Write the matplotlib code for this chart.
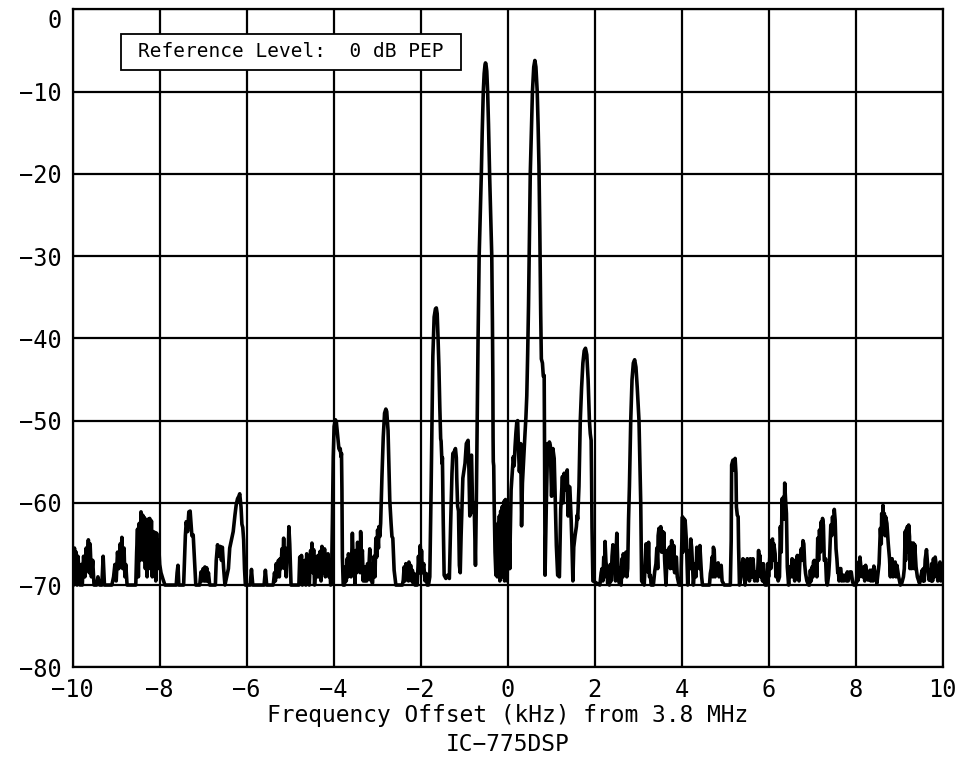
import matplotlib
matplotlib.use("Agg")
import matplotlib.pyplot as plt
from matplotlib.patches import Rectangle

# spectrum trace: (offset kHz, level dB)
seg_far_left = [
    (-10.00, -66.0), (-9.98, -70), (-9.96, -65.5), (-9.94, -69), (-9.92, -66), (-9.90, -70),
    (-9.88, -66.5), (-9.86, -68), (-9.83, -70), (-9.80, -67.5), (-9.78, -70), (-9.75, -66.5),
    (-9.72, -69), (-9.69, -65.5), (-9.67, -68), (-9.64, -64.5), (-9.62, -68.5), (-9.60, -65.0),
    (-9.57, -69), (-9.54, -67), (-9.51, -70), (-9.45, -70), (-9.42, -69), (-9.38, -70),
    (-9.33, -70), (-9.30, -66.5), (-9.27, -70), (-9.10, -70), (-9.06, -69), (-9.03, -67.5),
    (-9.00, -69.5), (-8.97, -66.0), (-8.94, -68), (-8.91, -65.0), (-8.89, -67.5), (-8.87, -64.2),
    (-8.85, -68), (-8.82, -65.5), (-8.80, -69), (-8.78, -67.5), (-8.75, -70), (-8.58, -70),
    (-8.55, -70), (-8.53, -66), (-8.51, -63.2), (-8.49, -69), (-8.47, -62.5), (-8.45, -67),
    (-8.43, -61.1), (-8.41, -66), (-8.39, -61.5), (-8.37, -67), (-8.35, -61.8), (-8.33, -68),
    (-8.31, -62.3), (-8.29, -69), (-8.27, -62.0), (-8.25, -68), (-8.23, -61.9), (-8.21, -67),
    (-8.19, -62.2), (-8.17, -69), (-8.15, -63.5), (-8.13, -68), (-8.11, -63.6), (-8.09, -69.5),
    (-8.07, -63.7), (-8.05, -68), (-8.03, -64.5), (-8.00, -67.5), (-7.97, -68.5), (-7.93, -69.2),
    (-7.88, -70), (-7.62, -70), (-7.60, -68.5), (-7.58, -67.6), (-7.56, -70), (-7.45, -70),
    (-7.41, -64), (-7.39, -62.3), (-7.36, -63.5), (-7.33, -61.1), (-7.30, -61.0), (-7.28, -62.5),
    (-7.26, -64), (-7.23, -63.9), (-7.20, -67), (-7.17, -70), (-7.08, -70), (-7.05, -68.4),
    (-7.03, -69.5), (-7.00, -68.0), (-6.98, -69.5), (-6.96, -67.8), (-6.94, -69.5), (-6.92, -67.9),
    (-6.90, -69.5), (-6.88, -68.5), (-6.85, -70), (-6.72, -70), (-6.70, -67), (-6.67, -65.1),
    (-6.64, -66.5), (-6.61, -65.3), (-6.58, -67), (-6.56, -65.4), (-6.53, -68), (-6.50, -70),
    (-6.46, -69), (-6.42, -68), (-6.39, -65.5), (-6.35, -64.5), (-6.31, -63.5), (-6.27, -61.5),
    (-6.24, -60.2), (-6.21, -59.5), (-6.18, -59.2), (-6.16, -58.9), (-6.13, -60.5), (-6.11, -62.6),
    (-6.09, -63), (-6.07, -64.5), (-6.05, -68), (-6.03, -70),
]

seg_left = [
    (-5.92, -70), (-5.89, -68.1), (-5.86, -70), (-5.60, -70), (-5.57, -68.2), (-5.54, -70),
    (-5.39, -70), (-5.36, -68.5), (-5.34, -69.5), (-5.32, -67.4), (-5.30, -69), (-5.27, -67),
    (-5.25, -69), (-5.23, -66.8), (-5.21, -68), (-5.19, -65.6), (-5.17, -67.5), (-5.15, -64.3),
    (-5.13, -68), (-5.11, -65.5), (-5.09, -69), (-5.07, -65.8), (-5.05, -67), (-5.03, -62.9),
    (-5.01, -65), (-4.98, -70), (-4.80, -70), (-4.78, -66.6), (-4.76, -69), (-4.74, -66.4),
    (-4.72, -70), (-4.70, -67.4), (-4.68, -69.5), (-4.66, -67), (-4.64, -70), (-4.62, -66.2),
    (-4.60, -68), (-4.58, -66.6), (-4.56, -70), (-4.53, -65.8), (-4.51, -68), (-4.50, -64.9),
    (-4.48, -68.5), (-4.46, -65.7), (-4.44, -70), (-4.42, -68.5), (-4.40, -66.6), (-4.38, -69),
    (-4.36, -66.4), (-4.34, -69), (-4.31, -65.9), (-4.29, -69.5), (-4.27, -65.3), (-4.25, -66),
    (-4.23, -68.5), (-4.21, -65.6), (-4.19, -69), (-4.17, -66.6), (-4.15, -68.5), (-4.13, -66.2),
    (-4.11, -69), (-4.09, -67), (-4.07, -70), (-4.05, -69.4), (-4.03, -62.5), (-4.01, -54.4),
    (-3.99, -50.7), (-3.96, -49.9), (-3.94, -50.1), (-3.92, -51.2), (-3.90, -52.4), (-3.88, -53.4),
    (-3.86, -53.6), (-3.85, -53.4), (-3.83, -54.4), (-3.82, -54.0), (-3.81, -58.5), (-3.80, -66.6),
    (-3.78, -70), (-3.75, -70), (-3.73, -67.8), (-3.71, -69.5), (-3.69, -66.8), (-3.67, -69),
    (-3.66, -66.2), (-3.64, -68.5), (-3.62, -66.6), (-3.60, -69), (-3.57, -63.7), (-3.55, -67),
    (-3.53, -66.6), (-3.51, -69.8), (-3.49, -65.8), (-3.47, -68.5), (-3.45, -64.8), (-3.43, -68),
    (-3.41, -65.0), (-3.39, -68.5), (-3.38, -63.5), (-3.36, -67), (-3.34, -65.8), (-3.32, -69.5),
    (-3.30, -67.8), (-3.28, -69.5), (-3.26, -67.8), (-3.24, -69.5), (-3.22, -67.4), (-3.20, -69),
    (-3.17, -65.6), (-3.15, -69.4), (-3.13, -67.5), (-3.11, -69.8), (-3.09, -68.6), (-3.07, -66.5),
    (-3.05, -69), (-3.03, -64.3), (-3.01, -66.6), (-2.99, -63.3), (-2.97, -65.5), (-2.96, -62.9),
    (-2.94, -64.1), (-2.92, -62.5), (-2.89, -56.8), (-2.86, -52.0), (-2.83, -49.1), (-2.80, -48.6),
    (-2.78, -48.9), (-2.75, -51.2), (-2.73, -55.2), (-2.71, -59.7), (-2.68, -62.5), (-2.66, -64.1),
    (-2.64, -64.3), (-2.61, -68.2), (-2.57, -70), (-2.42, -70), (-2.40, -69.4), (-2.38, -67.8),
    (-2.36, -69.5), (-2.34, -67.4), (-2.32, -69), (-2.30, -67.6), (-2.28, -69.5), (-2.27, -67.2),
    (-2.25, -69), (-2.23, -67.6), (-2.21, -69.5), (-2.19, -68.2), (-2.17, -69.8), (-2.15, -68.6),
    (-2.13, -70), (-2.08, -70), (-2.05, -66.5), (-2.03, -68.5), (-2.01, -65.2), (-1.99, -67),
    (-1.98, -65.8), (-1.96, -68.5), (-1.93, -67.4), (-1.90, -69.5), (-1.87, -68.6), (-1.85, -70),
]

seg_centre = [
    (-1.82, -70), (-1.79, -69), (-1.76, -58.5), (-1.74, -50.3), (-1.72, -42.2), (-1.69, -37.4),
    (-1.66, -36.4), (-1.64, -36.3), (-1.62, -37.0), (-1.60, -40), (-1.58, -43.5), (-1.56, -48.3),
    (-1.54, -52.2), (-1.53, -52.5), (-1.51, -55.2), (-1.50, -54.5), (-1.48, -62.5), (-1.46, -68.8),
    (-1.42, -69.2), (-1.38, -68.8), (-1.34, -69.2), (-1.31, -62.5), (-1.28, -56.4), (-1.26, -54.0),
    (-1.23, -53.8), (-1.20, -53.4), (-1.18, -54.5), (-1.17, -57), (-1.15, -60.4), (-1.13, -61),
    (-1.11, -67.6), (-1.09, -68.5), (-1.07, -64), (-1.03, -57), (-0.98, -55.2), (-0.95, -52.8),
    (-0.91, -52.4), (-0.89, -56), (-0.87, -61.6), (-0.86, -54.5), (-0.83, -54.2), (-0.81, -59.6),
    (-0.79, -61.2), (-0.77, -60), (-0.74, -67.6),
    # lower tone
    (-0.72, -60), (-0.70, -50), (-0.68, -40), (-0.655, -30), (-0.63, -25), (-0.605, -20),
    (-0.585, -15), (-0.56, -10), (-0.54, -7.8), (-0.52, -6.7), (-0.51, -6.5), (-0.50, -6.6),
    (-0.48, -7.5), (-0.46, -10), (-0.44, -14), (-0.415, -20), (-0.39, -25), (-0.365, -30),
    (-0.35, -38), (-0.34, -45), (-0.335, -52), (-0.33, -55), (-0.32, -55.5), (-0.31, -60),
    (-0.29, -66), (-0.27, -68.8),
    (-0.25, -63.2), (-0.24, -69), (-0.22, -62.5), (-0.21, -68), (-0.19, -61.6), (-0.18, -69.5),
    (-0.16, -61), (-0.15, -67), (-0.13, -60.5), (-0.12, -69), (-0.11, -60.4), (-0.09, -66),
    (-0.08, -59.8), (-0.07, -69.5), (-0.05, -59.6), (-0.04, -66.5), (-0.02, -62), (-0.01, -69.5),
    (0.00, -61.6), (0.02, -68), (0.04, -65), (0.05, -68), (0.06, -64), (0.08, -58.4),
    (0.11, -56), (0.13, -54.4), (0.15, -55.5), (0.17, -53.2), (0.19, -51.5), (0.21, -50.2),
    (0.23, -50.0), (0.25, -53.6), (0.27, -56.2), (0.29, -54.5), (0.30, -52.8), (0.32, -62.8),
    (0.34, -57.6), (0.36, -55.5), (0.38, -53.6), (0.40, -51.5), (0.42, -49.6),
    # upper tone
    (0.44, -47), (0.46, -42), (0.48, -36), (0.50, -28), (0.52, -20), (0.545, -15),
    (0.57, -10), (0.60, -7), (0.626, -6.2), (0.65, -7), (0.68, -10), (0.70, -14),
    (0.72, -19), (0.74, -27), (0.76, -37), (0.775, -42.5), (0.80, -43), (0.82, -44.6),
    (0.84, -44.5), (0.85, -55), (0.86, -68.8),
    (0.89, -60), (0.92, -52.8), (0.94, -54), (0.96, -52.6), (0.98, -53), (1.01, -59.2),
    (1.04, -53.4), (1.07, -54.6), (1.09, -58.6), (1.12, -65.2), (1.15, -68.8), (1.19, -69),
    (1.22, -60.8), (1.26, -56.8), (1.28, -60), (1.30, -56.4), (1.33, -58.4), (1.37, -56),
    (1.39, -61.6), (1.41, -58), (1.43, -58.1), (1.46, -62), (1.48, -65.4), (1.50, -69.5),
    (1.52, -65.4), (1.55, -64), (1.58, -62.9), (1.60, -61.5),
    (1.61, -62), (1.64, -58), (1.67, -50), (1.70, -46), (1.73, -43), (1.76, -41.5),
    (1.79, -41.2), (1.82, -42), (1.85, -45), (1.88, -50), (1.90, -51.6), (1.92, -52.4),
    (1.93, -57), (1.94, -63), (1.96, -69.5),
]

seg_right = [
    (2.12, -70), (2.15, -68.5), (2.17, -68.0), (2.19, -69.5), (2.21, -66.6), (2.23, -69),
    (2.24, -64.7), (2.26, -67.2), (2.28, -68.0), (2.30, -69.8), (2.32, -68), (2.34, -70),
    (2.36, -67.5), (2.38, -69.5), (2.40, -66.5), (2.42, -65.1), (2.44, -68), (2.46, -67.2),
    (2.48, -69.5), (2.49, -66.5), (2.51, -63.7), (2.53, -67), (2.55, -68.5), (2.57, -69.8),
    (2.59, -68), (2.61, -70), (2.63, -66.8), (2.65, -69), (2.66, -66.2), (2.68, -68.5),
    (2.70, -67.4), (2.72, -66.0), (2.74, -69), (2.76, -68),
    (2.78, -62), (2.80, -58), (2.83, -50), (2.86, -45), (2.89, -43), (2.92, -42.6),
    (2.95, -43.5), (2.98, -46), (3.02, -50), (3.04, -55), (3.06, -60), (3.08, -69.5),
    (3.14, -70), (3.16, -67.6), (3.18, -65), (3.20, -67.5), (3.22, -68.4), (3.24, -64.8),
    (3.26, -69), (3.28, -68.8), (3.30, -70), (3.35, -70), (3.38, -68.4), (3.41, -67.4),
    (3.43, -65.5), (3.45, -68), (3.46, -64), (3.48, -63.1), (3.50, -64.9), (3.52, -62.9),
    (3.54, -66), (3.56, -63.5), (3.58, -65.5), (3.59, -63.6), (3.61, -67), (3.64, -70),
    (3.67, -65.8), (3.69, -67), (3.72, -65.4), (3.74, -68), (3.77, -64.6), (3.79, -65.4),
    (3.80, -68), (3.82, -65.2), (3.84, -68.5), (3.85, -66.6), (3.88, -66.6), (3.90, -69),
    (3.94, -70), (3.98, -70), (4.00, -66), (4.02, -61.7), (4.03, -66), (4.05, -61.9),
    (4.07, -65), (4.08, -62.1), (4.11, -64.6), (4.14, -70), (4.16, -67), (4.18, -65.8),
    (4.20, -68), (4.21, -64.4), (4.23, -65.4), (4.25, -67.5), (4.27, -70), (4.31, -67.4),
    (4.33, -69), (4.35, -65.4), (4.37, -67), (4.39, -66.2), (4.41, -68), (4.42, -65.2),
    (4.44, -67.1), (4.46, -69), (4.48, -70), (4.64, -70), (4.66, -68.6), (4.68, -68),
    (4.70, -66.6), (4.72, -69), (4.73, -65.4), (4.75, -65.8), (4.77, -69), (4.79, -67.8),
    (4.82, -68.6), (4.84, -67.3), (4.86, -69), (4.88, -68.2), (4.91, -67.6), (4.93, -69.5),
    (4.98, -70), (5.12, -70), (5.14, -64.6), (5.15, -55.4), (5.18, -54.8), (5.20, -56),
    (5.23, -54.6), (5.25, -56.4), (5.26, -60.5), (5.28, -61.5), (5.30, -61.7), (5.31, -65.4),
    (5.33, -70), (5.37, -69), (5.39, -67.8), (5.41, -66.8), (5.43, -68.5), (5.44, -67),
    (5.46, -70), (5.48, -68.5), (5.51, -66.8), (5.53, -69), (5.54, -67), (5.56, -69.5),
    (5.58, -66.8), (5.60, -69), (5.61, -67.4), (5.63, -69), (5.64, -66.8), (5.66, -68.2),
    (5.68, -69.5), (5.71, -68.4), (5.74, -69.5), (5.77, -65.8), (5.79, -68.5), (5.80, -66.4),
    (5.82, -69), (5.83, -67.4), (5.86, -69.5), (5.88, -67.4), (5.90, -69.5), (5.92, -70),
    (5.96, -70), (5.98, -67.4), (6.00, -69), (6.03, -66.4), (6.05, -68), (6.07, -64.6),
    (6.09, -64.4), (6.11, -67), (6.12, -65), (6.15, -66.2), (6.17, -69), (6.19, -67.4),
    (6.22, -69.5), (6.25, -69), (6.27, -62.9), (6.29, -66), (6.31, -59.5), (6.33, -62),
    (6.34, -59.3), (6.36, -62), (6.37, -57.6), (6.39, -59.6), (6.41, -61.3), (6.43, -67.8),
    (6.46, -70), (6.49, -67.8), (6.51, -69), (6.54, -66.8), (6.56, -69), (6.58, -67),
    (6.60, -69.5), (6.62, -67), (6.64, -69), (6.66, -66.4), (6.68, -68.8), (6.70, -69.5),
    (6.72, -67), (6.75, -65.6), (6.77, -67), (6.79, -64.6), (6.81, -65), (6.83, -67.5),
    (6.85, -68.6), (6.88, -69.5), (6.92, -70),
]

seg_far_right = [
    (6.94, -70), (6.96, -68.2), (6.98, -69.5), (7.00, -67.8), (7.02, -69), (7.03, -67.2),
    (7.05, -67), (7.07, -68.8), (7.09, -67.2), (7.11, -69), (7.13, -64.3), (7.15, -67),
    (7.17, -63.3), (7.19, -66), (7.21, -62.3), (7.23, -65), (7.24, -61.9), (7.26, -62.7),
    (7.28, -67), (7.30, -67), (7.31, -66.8), (7.33, -69.5), (7.35, -70), (7.38, -68.8),
    (7.40, -67), (7.43, -62.7), (7.45, -64), (7.47, -61.7), (7.49, -63.5), (7.51, -60.8),
    (7.53, -62.1), (7.55, -65.6), (7.57, -66.8), (7.59, -68.5), (7.60, -68), (7.62, -69.5),
    (7.64, -68), (7.66, -68), (7.68, -69.5), (7.70, -68.8), (7.73, -69.5), (7.74, -68.8),
    (7.77, -69.2), (7.79, -69.5), (7.81, -68.4), (7.83, -69.5), (7.87, -68.4), (7.90, -68.4),
    (7.93, -69.6), (7.96, -70), (8.01, -70), (8.04, -68.2), (8.05, -69.5), (8.07, -67.2),
    (8.09, -69), (8.10, -66.6), (8.13, -68.2), (8.16, -69), (8.19, -67.8), (8.21, -69.5),
    (8.23, -67.6), (8.26, -69), (8.29, -69.4), (8.33, -68.2), (8.35, -69.5), (8.37, -68.2),
    (8.40, -69.5), (8.42, -67.7), (8.46, -69), (8.49, -69.8), (8.54, -67.4), (8.57, -63.1),
    (8.59, -65), (8.60, -61.3), (8.62, -63), (8.63, -60.3), (8.65, -63), (8.66, -61.3),
    (8.68, -64), (8.69, -61.7), (8.72, -62.5), (8.75, -64.9), (8.78, -66.8), (8.80, -69),
    (8.81, -67), (8.84, -66.8), (8.86, -69), (8.87, -67.4), (8.91, -67.2), (8.93, -69),
    (8.95, -67.6), (8.99, -69), (9.03, -70), (9.06, -69.8), (9.10, -69), (9.12, -68),
    (9.14, -63.5), (9.15, -67), (9.16, -63.3), (9.18, -66), (9.19, -62.9), (9.21, -66),
    (9.22, -62.7), (9.24, -64.1), (9.25, -68), (9.27, -65.3), (9.29, -68), (9.30, -64.9),
    (9.33, -64.9), (9.35, -68), (9.36, -65.1), (9.39, -67.8), (9.42, -69), (9.47, -69.8),
    (9.50, -69), (9.53, -68.2), (9.55, -69.5), (9.56, -68), (9.58, -69.5), (9.60, -66.9),
    (9.63, -65.7), (9.66, -67.8), (9.69, -69.4), (9.72, -68.2), (9.74, -69.5), (9.75, -67.4),
    (9.77, -69.5), (9.79, -66.8), (9.81, -69), (9.83, -66.6), (9.87, -68.2), (9.89, -69.5),
    (9.91, -68.6), (9.94, -67.2), (9.96, -69.5), (9.97, -68.6), (10.00, -68.2),
]

x_ticks = [-10, -8, -6, -4, -2, 0, 2, 4, 6, 8, 10]
y_ticks = [0, -10, -20, -30, -40, -50, -60, -70, -80]

trace = seg_far_left + seg_left + seg_centre + seg_right + seg_far_right
freq_khz = [p[0] for p in trace]
level_db = [p[1] for p in trace]

# plotter style lettering is close to a fixed-width sans
plt.rcParams['font.family'] = ['DejaVu Sans Mono']

fig = plt.figure(figsize=(9.58, 7.58), dpi=100)
ax = fig.add_axes([0.0759, 0.1197, 0.908, 0.8678])

ax.plot(freq_khz, level_db, color='black', lw=2.6, solid_joinstyle='round', zorder=3)

ax.set_xlim(-10, 10)
ax.set_ylim(-80, 0)
ax.set_xticks(x_ticks)
ax.set_yticks(y_ticks)
ax.set_xticklabels([str(t).replace('-', '\u2212') for t in x_ticks])
ax.set_yticklabels([str(t).replace('-', '\u2212') for t in y_ticks])
ax.tick_params(length=0, labelsize=17, pad=8)
ax.tick_params(axis='y', pad=8)
ax.get_yticklabels()[0].set_va('top')
ax.grid(True, color='black', lw=1.6)
for s in ax.spines.values():
    s.set_linewidth(1.6)

fig.text(0.53, 0.0555, 'Frequency Offset (kHz) from 3.8 MHz', ha='center', va='center', fontsize=16.5)
fig.text(0.53, 0.0172, 'IC\u2212775DSP', ha='center', va='center', fontsize=16.5)

box = Rectangle((0.1263, 0.9077), 0.3549, 0.0475, transform=fig.transFigure,
                facecolor='white', edgecolor='black', lw=1.3, zorder=5)
fig.add_artist(box)
fig.text(0.3038, 0.9314, 'Reference Level:  0 dB PEP', ha='center', va='center',
         fontsize=14, zorder=6)

fig.savefig('out.png', dpi=100)
